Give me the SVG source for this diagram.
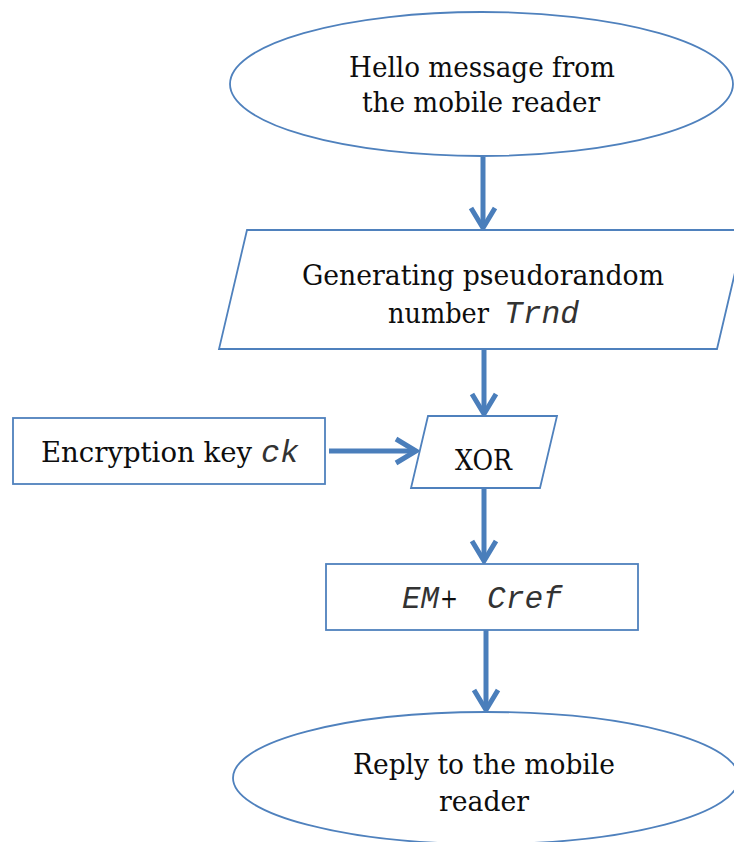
<svg xmlns="http://www.w3.org/2000/svg" width="734" height="842" viewBox="0 0 734 842">
  <style>
    .shape { fill: #ffffff; stroke: #4f81bd; stroke-width: 1.8; }
    .lbl { font-family: "DejaVu Serif", "Liberation Serif", serif; font-size: 28px; fill: #0d0d0d; }
    .mono { font-family: "Liberation Mono", "Courier New", monospace; font-style: italic; font-size: 31px; fill: #333; }
    .conn { stroke: #4a7ebb; stroke-width: 5; fill: none; }
    .head { stroke: #4a7ebb; stroke-width: 5; fill: none; stroke-linecap: butt; stroke-linejoin: miter; }
  </style>
  <rect width="734" height="842" fill="#ffffff"/>

  <g id="connectors">
    <line class="conn" x1="483" y1="157" x2="483" y2="227"/>
    <polyline class="head" points="471,208 483,228 495,208"/>
    <line class="conn" x1="484" y1="349" x2="484" y2="413"/>
    <polyline class="head" points="472,394 484,414 496,394"/>
    <line class="conn" x1="329" y1="451" x2="415" y2="451"/>
    <polyline class="head" points="396,439 416,451 396,463"/>
    <line class="conn" x1="484" y1="488" x2="484" y2="560"/>
    <polyline class="head" points="472,541 484,561 496,541"/>
    <line class="conn" x1="486" y1="630" x2="486" y2="709"/>
    <polyline class="head" points="474,690 486,710 498,690"/>
  </g>

  <g id="hello">
    <ellipse class="shape" cx="481.5" cy="84" rx="251.5" ry="72"/>
    <text class="lbl" x="349" y="77" textLength="266" lengthAdjust="spacingAndGlyphs">Hello message from</text>
    <text class="lbl" x="362" y="112" textLength="238" lengthAdjust="spacingAndGlyphs">the mobile reader</text>
  </g>

  <g id="generate">
    <polygon class="shape" points="247,230 745,230 717,349 219,349"/>
    <text class="lbl" x="302" y="285" textLength="362" lengthAdjust="spacingAndGlyphs">Generating pseudorandom</text>
    <text class="lbl" x="388" y="323" textLength="101" lengthAdjust="spacingAndGlyphs">number</text>
    <text class="mono" x="504" y="323" textLength="75" lengthAdjust="spacingAndGlyphs">Trnd</text>
  </g>

  <g id="key">
    <rect class="shape" x="13" y="418" width="312" height="66"/>
    <text class="lbl" x="41" y="462" textLength="211" lengthAdjust="spacingAndGlyphs">Encryption key</text>
    <text class="mono" x="261" y="462" textLength="38" lengthAdjust="spacingAndGlyphs">ck</text>
  </g>

  <g id="xor">
    <polygon class="shape" points="428,416 557,416 540,488 411,488"/>
    <text class="lbl" x="455" y="470" textLength="57" lengthAdjust="spacingAndGlyphs">XOR</text>
  </g>

  <g id="output">
    <rect class="shape" x="326" y="564" width="312" height="66"/>
    <text class="mono" x="402" y="608" textLength="37" lengthAdjust="spacingAndGlyphs">EM</text>
    <text class="lbl" x="440" y="608" textLength="18" lengthAdjust="spacingAndGlyphs">+</text>
    <text class="mono" x="487" y="608" textLength="75" lengthAdjust="spacingAndGlyphs">Cref</text>
  </g>

  <g id="reply">
    <ellipse class="shape" cx="486" cy="778" rx="253" ry="66"/>
    <text class="lbl" x="353" y="774" textLength="262" lengthAdjust="spacingAndGlyphs">Reply to the mobile</text>
    <text class="lbl" x="439" y="811" textLength="90" lengthAdjust="spacingAndGlyphs">reader</text>
  </g>
</svg>
